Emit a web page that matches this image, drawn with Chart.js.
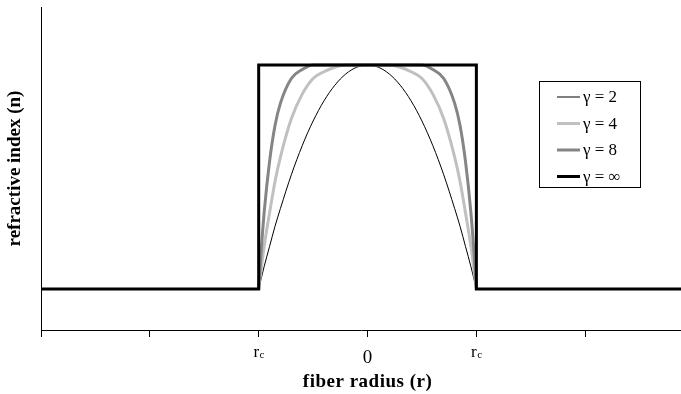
<!DOCTYPE html>
<html>
<head>
<meta charset="utf-8">
<script src="https://cdn.jsdelivr.net/npm/chart.js@4.4.1/dist/chart.umd.min.js"></script>
<style>
  html, body { margin: 0; padding: 0; background: #fff; overflow: hidden; }
  #wrap { width: 681px; height: 394px; position: relative; }
</style>
</head>
<body>
<div id="wrap"><canvas id="myChart" width="681" height="394"></canvas></div>
<script>
// graded-index profiles, radius in units of the core radius rc
const radius = [-1, -0.98, -0.95, -0.9, -0.85, -0.8, -0.7, -0.6, -0.5, -0.4, -0.3, -0.2, -0.1, 0,
  0.1, 0.2, 0.3, 0.4, 0.5, 0.6, 0.7, 0.8, 0.85, 0.9, 0.95, 0.98, 1];
const gamma2 = [0, 0.04, 0.10, 0.19, 0.28, 0.36, 0.51, 0.64, 0.75, 0.84, 0.91, 0.96, 0.99, 1,
  0.99, 0.96, 0.91, 0.84, 0.75, 0.64, 0.51, 0.36, 0.28, 0.19, 0.10, 0.04, 0];
const gamma4 = [0, 0.08, 0.19, 0.34, 0.48, 0.59, 0.76, 0.87, 0.94, 0.97, 0.99, 1, 1, 1,
  1, 1, 0.99, 0.97, 0.94, 0.87, 0.76, 0.59, 0.48, 0.34, 0.19, 0.08, 0];
const gamma8 = [0, 0.15, 0.34, 0.57, 0.73, 0.83, 0.94, 0.98, 1, 1, 1, 1, 1, 1,
  1, 1, 1, 1, 1, 0.98, 0.94, 0.83, 0.73, 0.57, 0.34, 0.15, 0];

// step index profile (gamma = infinity), cladding on both sides
const stepRadius = [-3, -1, -1, 1, 1, 2.88];
const stepIndex = [0, 0, 1, 1, 0, 0];

const seriesNames = ["γ = 2", "γ = 4", "γ = 8", "γ = ∞"];
const tickValues = [-1, 0, 1];
const tickLabels = [["r", "c"], ["0", ""], ["r", "c"]];

const serif = "'Liberation Serif', 'Times New Roman', serif";
const toPoints = (xs, ys) => xs.map((x, i) => ({ x: x, y: ys[i] }));

const lineStyle = [
  { color: "#000000", width: 1 },
  { color: "#c0c0c0", width: 3 },
  { color: "#858585", width: 3 },
  { color: "#000000", width: 3 }
];

// tick labels with subscript and the x title
const axisText = {
  id: "axisText",
  afterDraw(chart) {
    const ctx = chart.ctx;
    const xs = chart.scales.x;
    const bottom = chart.chartArea.bottom;
    ctx.save();
    ctx.fillStyle = "#000";
    ctx.textBaseline = "alphabetic";
    tickValues.forEach((v, i) => {
      const px = xs.getPixelForValue(v);
      const [main, sub] = tickLabels[i];
      if (sub) {
        ctx.font = "17px " + serif;
        const w1 = ctx.measureText(main).width;
        ctx.font = "11px " + serif;
        const w2 = ctx.measureText(sub).width;
        const x0 = px - (w1 + w2) / 2;
        ctx.font = "17px " + serif;
        ctx.textAlign = "left";
        ctx.fillText(main, x0, bottom + 27);
        ctx.font = "11px " + serif;
        ctx.fillText(sub, x0 + w1 + 0.5, bottom + 28);
      } else {
        ctx.font = "19px " + serif;
        ctx.textAlign = "center";
        ctx.fillText(main, px, bottom + 33);
      }
    });
    ctx.font = "bold 19px " + serif;
    ctx.letterSpacing = "0.5px";
    ctx.textAlign = "center";
    ctx.textBaseline = "middle";
    ctx.fillText("fiber radius (r)", xs.getPixelForValue(0), bottom + 52);
    ctx.restore();
  }
};

// boxed legend inside the plot
const boxLegend = {
  id: "boxLegend",
  afterDraw(chart) {
    const ctx = chart.ctx;
    const area = chart.chartArea;
    const left = area.right - 142;
    const top = area.top + 74;
    ctx.save();
    ctx.fillStyle = "#fff";
    ctx.fillRect(left, top, 101, 106);
    ctx.strokeStyle = "#000";
    ctx.lineWidth = 1;
    ctx.strokeRect(left + 0.5, top + 0.5, 101, 106);
    ctx.font = "17px " + serif;
    ctx.textAlign = "left";
    ctx.textBaseline = "middle";
    seriesNames.forEach((name, i) => {
      const y = top + 16 + i * 26.5;
      ctx.beginPath();
      ctx.strokeStyle = lineStyle[i].color;
      ctx.lineWidth = lineStyle[i].width;
      ctx.moveTo(left + 18, y);
      ctx.lineTo(left + 41, y);
      ctx.stroke();
      ctx.fillStyle = "#000";
      ctx.fillText(name, left + 44, y + 1);
    });
    ctx.restore();
  }
};

const profiles = [gamma2, gamma4, gamma8];
const datasets = profiles.map((vals, i) => ({
  label: seriesNames[i],
  data: toPoints(radius, vals),
  showLine: true,
  borderColor: lineStyle[i].color,
  borderWidth: lineStyle[i].width,
  pointRadius: 0,
  cubicInterpolationMode: "monotone",
  order: 4 - i
}));
datasets.push({
  label: seriesNames[3],
  data: toPoints(stepRadius, stepIndex),
  showLine: true,
  borderColor: lineStyle[3].color,
  borderWidth: lineStyle[3].width,
  pointRadius: 0,
  tension: 0,
  order: 0
});

var ctx = document.getElementById("myChart").getContext("2d");
var myChart = new Chart(ctx, {
  type: "scatter",
  data: { datasets: datasets },
  plugins: [axisText, boxLegend],
  options: {
    responsive: false,
    animation: false,
    layout: { padding: { top: 7, right: 0, left: 0, bottom: 0 } },
    plugins: {
      legend: { display: false },
      tooltip: { enabled: false }
    },
    scales: {
      x: {
        type: "linear",
        min: -3,
        max: 2.88,
        ticks: { display: false, stepSize: 1 },
        afterBuildTicks: scale => {
          scale.ticks = scale.ticks.filter(t => Number.isInteger(t.value));
        },
        afterFit: scale => { scale.height = 64; },
        grid: { display: true, drawOnChartArea: false, drawTicks: true, tickLength: 7, color: "#000", lineWidth: 1 },
        border: { display: true, color: "#000", width: 1 }
      },
      y: {
        type: "linear",
        min: -0.183,
        max: 1.259,
        ticks: { display: false },
        afterFit: scale => { scale.width = 41; },
        grid: { display: false },
        border: { display: true, color: "#000", width: 1 },
        title: {
          display: true,
          text: "refractive index (n)",
          color: "#000",
          font: { family: serif, size: 19, weight: "bold" },
          padding: { top: 4, bottom: 0 }
        }
      }
    }
  }
});
</script>
</body>
</html>
